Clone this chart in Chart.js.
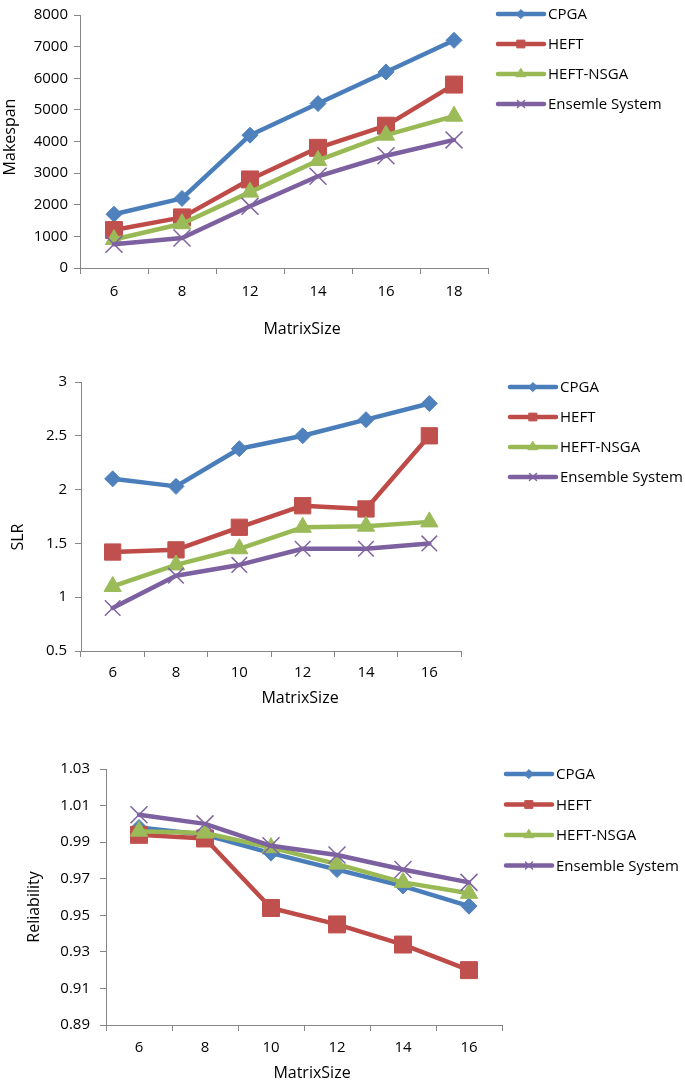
<!DOCTYPE html>
<html>
<head>
<meta charset="utf-8">
<script src="https://cdn.jsdelivr.net/npm/chart.js@4.4.1/dist/chart.umd.min.js"></script>
<style>
  html, body { margin: 0; padding: 0; background: #fff; }
  body { width: 685px; height: 1086px; position: relative; overflow: hidden; }
  .box { position: absolute; left: 0; width: 685px; }
</style>
</head>
<body>
<div class="box" style="top:0;height:345px"><canvas id="makespanChart"></canvas></div>
<div class="box" style="top:355px;height:365px"><canvas id="slrChart"></canvas></div>
<div class="box" style="top:735px;height:351px"><canvas id="reliabilityChart"></canvas></div>
<script>
// categories
const matrixSizesA = ["6", "8", "12", "14", "16", "18"];
const matrixSizesB = ["6", "8", "10", "12", "14", "16"];
const algoNamesA = ["CPGA", "HEFT", "HEFT-NSGA", "Ensemle System"];
const algoNamesB = ["CPGA", "HEFT", "HEFT-NSGA", "Ensemble System"];

// makespan
const makespanCPGA = [1700, 2200, 4200, 5200, 6200, 7200];
const makespanHEFT = [1200, 1600, 2800, 3800, 4500, 5800];
const makespanNSGA = [900, 1400, 2400, 3400, 4200, 4800];
const makespanEnsemble = [750, 950, 1950, 2900, 3550, 4050];
const makespanTicks = [0, 1000, 2000, 3000, 4000, 5000, 6000, 7000, 8000];

// SLR
const slrCPGA = [2.1, 2.03, 2.38, 2.5, 2.65, 2.8];
const slrHEFT = [1.42, 1.44, 1.65, 1.85, 1.82, 2.5];
const slrNSGA = [1.1, 1.3, 1.45, 1.65, 1.66, 1.7];
const slrEnsemble = [0.9, 1.2, 1.3, 1.45, 1.45, 1.5];
const slrTicks = [0.5, 1, 1.5, 2, 2.5, 3];

// reliability
const relCPGA = [0.998, 0.994, 0.984, 0.975, 0.966, 0.955];
const relHEFT = [0.994, 0.992, 0.954, 0.945, 0.934, 0.92];
const relNSGA = [0.996, 0.995, 0.987, 0.978, 0.968, 0.962];
const relEnsemble = [1.005, 1.0, 0.988, 0.983, 0.975, 0.968];
const relTicks = [0.89, 0.91, 0.93, 0.95, 0.97, 0.99, 1.01, 1.03];

const lineColors = ["#4A7EBB", "#BE4B48", "#98B954", "#7D60A0"];
const markerColors = ["#4F81BD", "#C0504D", "#9BBB59", "#8064A2"];
const markerStyles = ["rectRot", "rect", "triangle", "crossRot"];
const legendRadius = [4.5, 5.5, 5.5, 5];
const FONT = "'Open Sans', 'DejaVu Sans', sans-serif";

// titles + excel-like legend (line with small marker)
const sideLabels = {
  id: "sideLabels",
  afterDraw(chart, args, opts) {
    const ctx = chart.ctx;
    ctx.save();
    ctx.fillStyle = "#000";
    ctx.font = "16px " + FONT;
    ctx.textAlign = "center";
    ctx.textBaseline = "middle";
    ctx.fillText(opts.xTitle, opts.xTitleAt[0], opts.xTitleAt[1]);
    ctx.save();
    ctx.translate(opts.yTitleAt[0], opts.yTitleAt[1]);
    ctx.rotate(-Math.PI / 2);
    ctx.fillText(opts.yTitle, 0, 0);
    ctx.restore();

    ctx.font = "15px " + FONT;
    ctx.textAlign = "left";
    chart.data.datasets.forEach((ds, i) => {
      const y = opts.legendTop + i * opts.legendStep;
      const x = opts.legendLeft;
      ctx.strokeStyle = ds.borderColor;
      ctx.lineWidth = 4.5;
      ctx.lineCap = "round";
      ctx.beginPath();
      ctx.moveTo(x, y);
      ctx.lineTo(x + 46, y);
      ctx.stroke();
      ctx.fillStyle = ds.pointBackgroundColor;
      ctx.strokeStyle = ds.pointBorderColor;
      ctx.lineWidth = i === 3 ? 1.5 : 1;
      Chart.helpers.drawPoint(ctx, { pointStyle: ds.pointStyle, radius: legendRadius[i], borderWidth: ctx.lineWidth, rotation: 0 }, x + 23, y);
      ctx.fillStyle = "#000";
      ctx.fillText(ds.label, x + 50, y + 1);
    });
    ctx.restore();
  },
};

function buildChart(id, labels, names, series, ticks, lay) {
  const datasets = series.map((data, i) => ({
    label: names[i],
    data: data,
    borderColor: lineColors[i],
    borderWidth: 4.5,
    borderJoinStyle: "round",
    borderCapStyle: "round",
    pointStyle: markerStyles[i],
    pointRadius: lay.radius[i],
    pointBackgroundColor: markerColors[i],
    pointBorderColor: markerColors[i],
    pointBorderWidth: i === 3 ? 1.5 : 1,
    tension: 0,
    order: 3 - i, // later series on top, like excel
  }));

  return new Chart(document.getElementById(id), {
    type: "line",
    data: { labels: labels, datasets: datasets },
    plugins: [sideLabels],
    options: {
      responsive: true,
      maintainAspectRatio: false,
      animation: false,
      events: [],
      layout: { padding: { left: 0, top: lay.top, right: 685 - lay.right, bottom: 0 } },
      plugins: {
        legend: { display: false },
        tooltip: { enabled: false },
        sideLabels: lay.labels,
      },
      scales: {
        x: {
          offset: true,
          grid: { offset: true, drawOnChartArea: false, drawTicks: true, tickLength: 6, color: "#868686" },
          border: { color: "#868686", width: 1 },
          ticks: { color: "#000", font: { family: FONT, size: 15 }, padding: lay.xPad, maxRotation: 0 },
          afterFit: (scale) => { scale.height = lay.height - lay.bottom; },
        },
        y: {
          min: ticks[0],
          max: ticks[ticks.length - 1],
          grid: { drawOnChartArea: false, drawTicks: true, tickLength: 6, color: "#868686" },
          border: { color: "#868686", width: 1 },
          ticks: { color: "#000", font: { family: FONT, size: 15 }, padding: lay.yPad, callback: (v) => String(v) },
          afterBuildTicks: (scale) => { scale.ticks = ticks.map((v) => ({ value: v })); },
          afterFit: (scale) => { scale.width = lay.left; },
        },
      },
    },
  });
}

buildChart("makespanChart", matrixSizesA, algoNamesA,
  [makespanCPGA, makespanHEFT, makespanNSGA, makespanEnsemble], makespanTicks,
  { left: 80, right: 488, top: 10, bottom: 268, height: 345, xPad: 9, yPad: 6,
    radius: [8, 12, 10, 12],
    labels: { xTitle: "MatrixSize", xTitleAt: [302, 329], yTitle: "Makespan", yTitleAt: [10, 137],
      legendLeft: 498, legendTop: 14, legendStep: 30 } });

buildChart("slrChart", matrixSizesB, algoNamesB,
  [slrCPGA, slrHEFT, slrNSGA, slrEnsemble], slrTicks,
  { left: 81, right: 461, top: 27, bottom: 296, height: 365, xPad: 7, yPad: 8,
    radius: [8, 11.5, 10, 11],
    labels: { xTitle: "MatrixSize", xTitleAt: [300, 343], yTitle: "SLR", yTitleAt: [18, 182],
      legendLeft: 510, legendTop: 32, legendStep: 30 } });

buildChart("reliabilityChart", matrixSizesB, algoNamesB,
  [relCPGA, relHEFT, relNSGA, relEnsemble], relTicks,
  { left: 106, right: 502, top: 34, bottom: 290, height: 351, xPad: 8, yPad: 10,
    radius: [8, 12, 10, 12],
    labels: { xTitle: "MatrixSize", xTitleAt: [312, 338], yTitle: "Reliability", yTitleAt: [34, 172],
      legendLeft: 506, legendTop: 39, legendStep: 30.5 } });
</script>
</body>
</html>
